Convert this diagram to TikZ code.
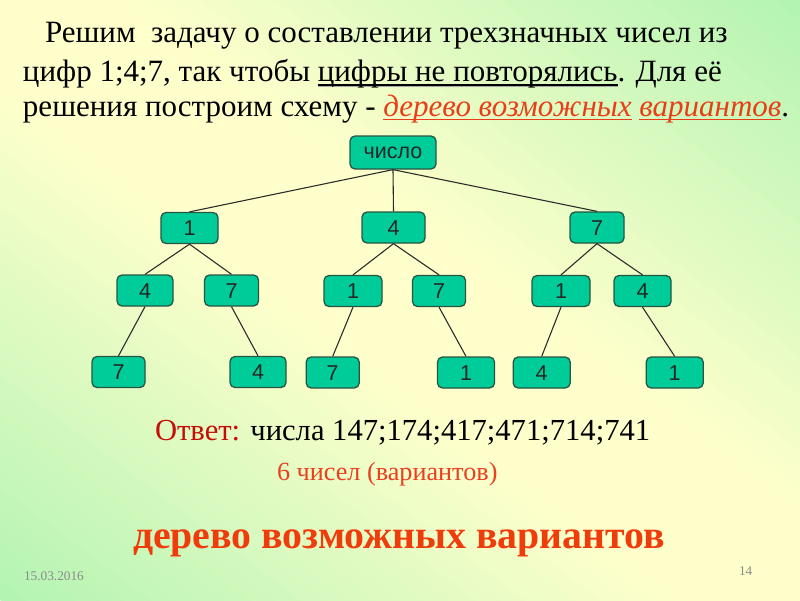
\documentclass[tikz,border=0pt]{standalone}
\usepackage{fontspec}
\setmainfont{Liberation Serif}
\newfontfamily\arialf{Liberation Sans}
\definecolor{bggreen}{RGB}{178,244,178}
\definecolor{bgyellow}{RGB}{255,255,204}
\definecolor{boxfill}{RGB}{0,204,153}
\definecolor{boxline}{RGB}{40,85,66}
\definecolor{edgecol}{RGB}{45,45,45}
\definecolor{redital}{RGB}{232,62,25}
\definecolor{redbold}{RGB}{240,60,10}
\definecolor{darkred}{RGB}{195,15,5}
\definecolor{orangered}{RGB}{232,64,32}
\definecolor{footgray}{RGB}{140,140,140}
\newcommand\ulc[3]{\setbox0\hbox{#3}\leavevmode\rlap{\textcolor{#1}{\rule[-#2]{\wd0}{1.6pt}}}\box0\relax}
\newcommand\ulshadow[1]{\setbox0\hbox{#1}\leavevmode\rlap{\textcolor{gray!70}{\rule[-5.4pt]{\wd0}{1.4pt}}}\rlap{\rule[-3.8pt]{\wd0}{1.6pt}}\box0\relax}
\tikzset{
  treebox/.style={draw=boxline, line width=1.3pt, fill=boxfill, rounded corners=5pt,
    minimum height=31pt, inner sep=0pt, text height=15pt, text depth=0pt,
    font=\arialf\fontsize{21.5}{24}\selectfont, text=black!85},
  treeedge/.style={draw=edgecol, line width=1.1pt},
  txt/.style={anchor=base west, inner sep=0pt, outer sep=0pt},
  headfont/.style={font=\fontsize{31}{36}\selectfont}
}
\begin{document}
\begin{tikzpicture}[x=1pt,y=-1pt]
\useasboundingbox (0,0) rectangle (800,600);
% background: diagonal gradient, yellow band from top-left to bottom-right
\begin{scope}
\clip (0,0) rectangle (800,600);
\foreach \i in {0,...,63} {
  \pgfmathsetmacro\ta{-480+\i*15}
  \pgfmathsetmacro\tb{\ta+16}
  \pgfmathsetmacro\tm{abs(\ta+7.5)}
  \pgfmathsetmacro\p{max(0,min(100,100*(1-max(0,\tm-70)/410)))}
  \fill[bgyellow!\p!bggreen]
    ({400+0.6*\ta-0.8*700},{300-0.8*\ta-0.6*700}) --
    ({400+0.6*\ta+0.8*700},{300-0.8*\ta+0.6*700}) --
    ({400+0.6*\tb+0.8*700},{300-0.8*\tb+0.6*700}) --
    ({400+0.6*\tb-0.8*700},{300-0.8*\tb-0.6*700}) -- cycle;
}
\end{scope}
% heading
\node[txt, headfont] (h1) at (45,42.7) {Решим\ \ задачу о составлении трехзначных чисел из};
\node[txt, headfont] (h2) at (23,81.7) {цифр 1;4;7, так чтобы \ulshadow{цифры не повторялись}. Для её};
\node[txt, headfont] (h3) at (23,116.5) {решения построим схему - \textcolor{redital}{\ulc{redital}{3.8pt}{\itshape дерево возможных} \ulc{redital}{3.8pt}{\itshape вариантов}}.};
% tree
\node[treebox, minimum width=86pt, minimum height=33pt, text height=11pt] (root) at (393,152.5) {число};
\node[treebox, minimum width=57pt] (a1) at (189.5,228) {1};
\node[treebox, minimum width=63pt] (a4) at (393.5,227.5) {4};
\node[treebox, minimum width=54pt] (a7) at (597,227.5) {7};
\node[treebox, minimum width=56pt] (b14) at (145,290.5) {4};
\node[treebox, minimum width=54pt] (b17) at (231.5,290.5) {7};
\node[treebox, minimum width=58pt] (b41) at (353,291) {1};
\node[treebox, minimum width=53pt] (b47) at (439,291) {7};
\node[treebox, minimum width=58pt] (b71) at (561,291) {1};
\node[treebox, minimum width=57pt] (b74) at (642.5,291) {4};
\node[treebox, minimum width=53pt] (c147) at (118.5,372) {7};
\node[treebox, minimum width=56pt] (c174) at (258,372) {4};
\node[treebox, minimum width=53pt] (c417) at (332.7,372.5) {7};
\node[treebox, minimum width=57pt] (c471) at (466,372.5) {1};
\node[treebox, minimum width=57pt] (c714) at (541.7,372.5) {4};
\node[treebox, minimum width=57pt] (c741) at (674.7,372.5) {1};
\draw[treeedge] (root.south) -- (a1.north);
\draw[treeedge] (root.south) -- (a4.north);
\draw[treeedge] (root.south) -- (a7.north);
\draw[treeedge] (a1.south) -- (b14.north);
\draw[treeedge] (a1.south) -- (b17.north);
\draw[treeedge] (a4.south) -- (b41.north);
\draw[treeedge] (a4.south) -- (b47.north);
\draw[treeedge] (a7.south) -- (b71.north);
\draw[treeedge] (a7.south) -- (b74.north);
\draw[treeedge] (b14.south) -- (c147.north);
\draw[treeedge] (b17.south) -- (c174.north);
\draw[treeedge] (b41.south) -- (c417.north);
\draw[treeedge] (b47.south) -- (c471.north);
\draw[treeedge] (b71.south) -- (c714.north);
\draw[treeedge] (b74.south) -- (c741.north);
% answer
\node[txt, font=\fontsize{30.6}{36}\selectfont] (ans) at (155,440) {\textcolor{darkred}{Ответ:} числа 147;174;417;471;714;741};
\node[txt, font=\fontsize{26.2}{30}\selectfont, text=orangered] (six) at (277,480) {6 чисел (вариантов)};
\node[txt, font=\fontsize{39.8}{46}\selectfont\bfseries, text=redbold] (title) at (133,548.3) {дерево возможных вариантов};
% footer
\node[txt, font=\fontsize{13.3}{15}\selectfont, text=footgray] (date) at (24,580) {15.03.2016};
\node[txt, font=\fontsize{13.3}{15}\selectfont, text=footgray] (page) at (739,575) {14};
\end{tikzpicture}
\end{document}
